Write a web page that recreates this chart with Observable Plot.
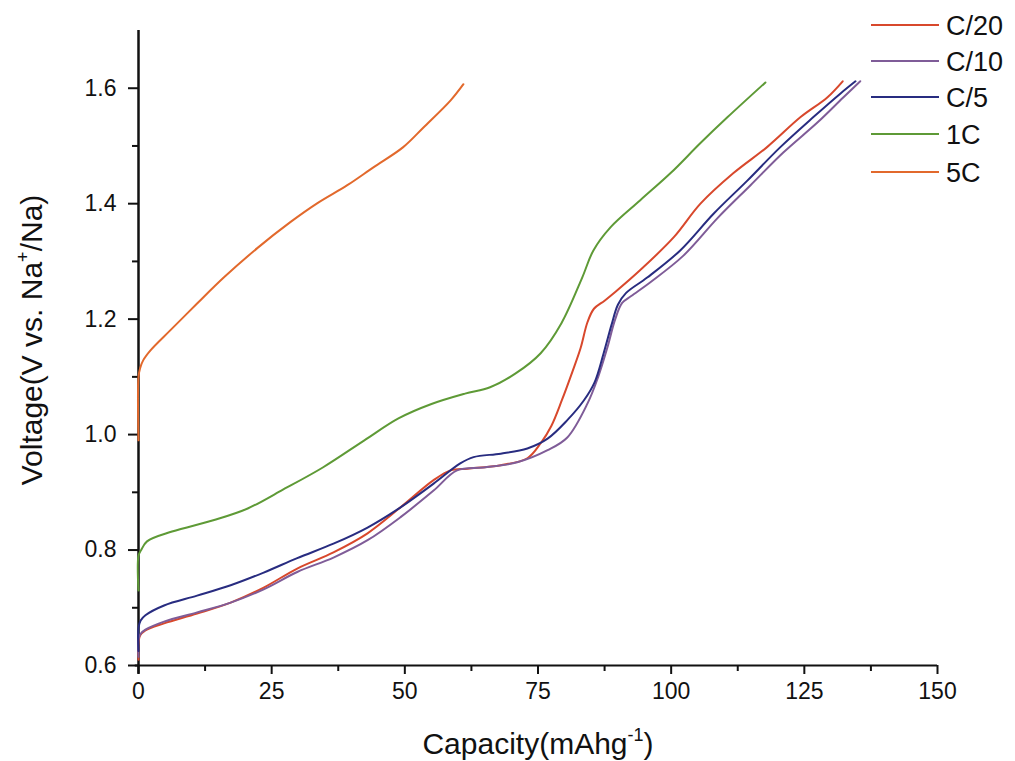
<!DOCTYPE html>
<html>
<head>
<meta charset="utf-8">
<script src="https://cdn.jsdelivr.net/npm/d3@7"></script>
<script src="https://cdn.jsdelivr.net/npm/@observablehq/plot@0.6"></script>
<style>
  html, body { margin: 0; padding: 0; background: #fff; }
  #chart { position: relative; width: 1015px; height: 761px; }
</style>
</head>
<body>
<div id="chart"></div>
<script>
// ---- Data ----
const seriesNames = ["C/20", "C/10", "C/5", "1C", "5C"];
const seriesColors = ["#d8482c", "#7f5c98", "#282c80", "#5e9a36", "#e2692c"];

const capC20 = [0, 0, 0.3, 1.3, 4.8, 11, 17.3, 23.5, 29.8, 36.6, 43, 49.2, 55.4, 58.6, 61.8, 68, 73, 75.5, 77.5, 79.5, 81.5, 83, 84.3, 85.5, 87.5, 89.5, 94.2, 100.5, 105.5, 111.7, 118, 124.3, 129.3, 132.2];
const voltC20 = [0.61, 0.64, 0.652, 0.661, 0.673, 0.69, 0.709, 0.735, 0.768, 0.796, 0.829, 0.874, 0.921, 0.938, 0.941, 0.947, 0.959, 0.985, 1.015, 1.06, 1.11, 1.15, 1.195, 1.218, 1.232, 1.247, 1.285, 1.342, 1.40, 1.453, 1.498, 1.55, 1.584, 1.612];

const capC10 = [0, 0, 0.4, 1.3, 4.8, 11, 17.3, 23.5, 29.8, 36.6, 43, 49.2, 55.4, 59.8, 64.8, 71.1, 76.8, 80.5, 84.3, 86.3, 88, 89.5, 90.8, 92.5, 96.1, 102.3, 108.7, 114.9, 121.1, 127.5, 132.3, 135.5];
const voltC10 = [0.615, 0.645, 0.655, 0.662, 0.676, 0.692, 0.709, 0.732, 0.762, 0.787, 0.817, 0.857, 0.903, 0.938, 0.943, 0.952, 0.973, 0.995, 1.054, 1.10, 1.15, 1.20, 1.228, 1.24, 1.264, 1.31, 1.375, 1.432, 1.489, 1.541, 1.584, 1.612];

const capC5 = [0, 0, 0.4, 1.3, 4.8, 11, 17.3, 23.5, 29.8, 36.6, 43, 49.2, 55.4, 60.4, 62.9, 68, 73, 76.8, 80.5, 83.6, 85.6, 87.3, 88.8, 90, 91.5, 95.5, 101.7, 108, 114.3, 120.5, 126.7, 131.8, 134.6];
const voltC5 = [0.625, 0.665, 0.678, 0.687, 0.704, 0.721, 0.739, 0.761, 0.786, 0.811, 0.839, 0.874, 0.915, 0.95, 0.961, 0.967, 0.976, 0.993, 1.025, 1.059, 1.09, 1.14, 1.19, 1.225, 1.245, 1.272, 1.319, 1.383, 1.44, 1.498, 1.55, 1.591, 1.612];

const cap1C = [0, 0, 0.5, 1.6, 6.3, 14.2, 20.5, 26.8, 34.6, 42.4, 48.8, 55, 61.3, 66, 70.8, 75.5, 79.4, 83.3, 85.4, 88.6, 94.2, 99.9, 105.5, 110.6, 117.7];
const volt1C = [0.73, 0.79, 0.80, 0.815, 0.832, 0.852, 0.872, 0.903, 0.943, 0.99, 1.028, 1.053, 1.071, 1.082, 1.106, 1.141, 1.193, 1.272, 1.319, 1.359, 1.406, 1.453, 1.505, 1.55, 1.61];

const cap5C = [0, 0, 0.3, 0.9, 2.25, 6, 11, 16, 22.3, 28.5, 33.6, 39.2, 44.1, 49.7, 53.5, 58.6, 61];
const volt5C = [0.99, 1.10, 1.115, 1.129, 1.146, 1.181, 1.227, 1.272, 1.323, 1.368, 1.401, 1.432, 1.463, 1.498, 1.532, 1.579, 1.607];

const xTicks = [0, 25, 50, 75, 100, 125, 150];
const xMinorTicks = [12.5, 37.5, 62.5, 87.5, 112.5, 137.5];
const yTicks = [0.6, 0.8, 1.0, 1.2, 1.4, 1.6];
const yMinorTicks = [0.7, 0.9, 1.1, 1.3, 1.5];

const xLabel = "Capacity(mAhg";
const yLabel = "Voltage(V vs. Na";

// ---- Build table ----
const caps = [capC20, capC10, capC5, cap1C, cap5C];
const volts = [voltC20, voltC10, voltC5, volt1C, volt5C];
const data = [];
seriesNames.forEach((name, i) => {
  caps[i].forEach((c, j) => data.push({series: name, cap: c, volt: volts[i][j]}));
});

const font = "Liberation Sans, Arial, sans-serif";
const W = 1015, H = 761;

const plot = Plot.plot({
  width: W,
  height: H,
  marginLeft: 138,
  marginRight: 78,
  marginTop: 30,
  marginBottom: 96,
  style: {fontFamily: font, fontSize: "23px", background: "#fff", color: "#111"},
  x: {domain: [0, 150], label: null},
  y: {domain: [0.6, 1.7], label: null},
  color: {domain: seriesNames, range: seriesColors},
  marks: [
    Plot.axisX({ticks: xTicks, tickSize: 9, tickPadding: 8, fontSize: 23, tickFormat: d => String(d), stroke: "#111", strokeWidth: 2, fill: "#111"}),
    Plot.axisX({ticks: xMinorTicks, tickSize: 6, tickFormat: () => "", stroke: "#111", strokeWidth: 2}),
    Plot.axisY({ticks: yTicks, tickSize: 10, tickPadding: 12, fontSize: 23, tickFormat: d3.format(".1f"), stroke: "#111", strokeWidth: 2, fill: "#111"}),
    Plot.axisY({ticks: yMinorTicks, tickSize: 6, tickFormat: () => "", stroke: "#111", strokeWidth: 2}),
    Plot.ruleY([0.6], {x1: -0.6, x2: 150, stroke: "#111", strokeWidth: 2}),
    Plot.ruleX([0], {y1: 0.585, y2: 1.7, stroke: "#111", strokeWidth: 2.5}),
    Plot.line(data, {x: "cap", y: "volt", z: "series", stroke: "series", strokeWidth: 2, curve: "catmull-rom"})
  ]
});

document.getElementById("chart").appendChild(plot);

// ---- Axis titles and legend ----
const svg = d3.select(plot);
svg.selectAll('g[aria-label="x-axis tick label"], g[aria-label="y-axis tick label"]')
  .attr("font-size", 23).selectAll("text").attr("font-size", 23);

const xt = svg.append("text")
  .attr("x", 538).attr("y", 754)
  .attr("text-anchor", "middle")
  .attr("font-family", font).attr("font-size", 30).attr("fill", "#111");
xt.append("tspan").text(xLabel);
xt.append("tspan").attr("font-size", 18).attr("dy", -13).text("-1");
xt.append("tspan").attr("dy", 13).text(")");

const yt = svg.append("text")
  .attr("transform", "translate(42,340) rotate(-90)")
  .attr("text-anchor", "middle")
  .attr("font-family", font).attr("font-size", 30).attr("fill", "#111");
yt.append("tspan").text(yLabel);
yt.append("tspan").attr("font-size", 18).attr("dy", -13).text("+");
yt.append("tspan").attr("dy", 13).text("/Na)");

const legendY = [25, 61, 97, 134, 172];
const lg = svg.append("g");
seriesNames.forEach((name, i) => {
  lg.append("line")
    .attr("x1", 871).attr("x2", 939)
    .attr("y1", legendY[i]).attr("y2", legendY[i])
    .attr("stroke", seriesColors[i]).attr("stroke-width", 2);
  lg.append("text")
    .attr("x", 946).attr("y", legendY[i])
    .attr("dy", "0.36em")
    .attr("text-anchor", "start")
    .attr("font-family", font).attr("font-size", 27).attr("fill", "#111")
    .text(name);
});
</script>
</body>
</html>
